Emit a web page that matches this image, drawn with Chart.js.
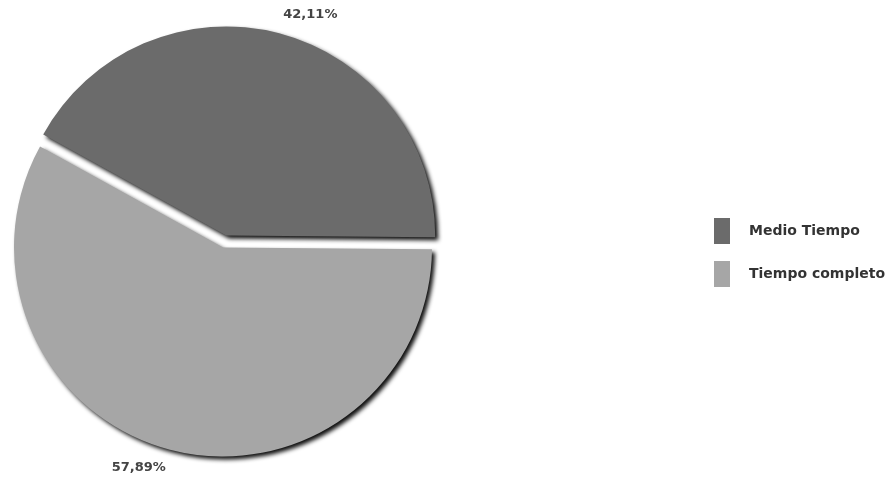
<!DOCTYPE html>
<html>
<head>
<meta charset="utf-8">
<script src="https://cdn.jsdelivr.net/npm/chart.js@4/dist/chart.umd.min.js"></script>
<style>
  html, body { margin: 0; padding: 0; background: #fff; }
  #wrap { width: 892px; height: 480px; }
</style>
</head>
<body>
<div id="wrap"><canvas id="chart" width="892" height="480"></canvas></div>
<script>
const labels = ['Medio Tiempo', 'Tiempo completo'];
const values = [42.11, 57.89];
const colors = ['#6b6b6b', '#a6a6a6'];
// exploded distance per slice, px
const explode = [12.5, 0];

const FONT = '"DejaVu Sans", Verdana, sans-serif';

// push slices out along their bisector without growing the radius
const explodePlugin = {
  id: 'explode',
  afterDatasetsUpdate(chart) {
    const meta = chart.getDatasetMeta(0);
    meta.data.forEach((arc, i) => {
      const mid = (arc.startAngle + arc.endAngle) / 2;
      arc.x += Math.cos(mid) * explode[i];
      arc.y += Math.sin(mid) * explode[i];
    });
  }
};

// soft black drop shadow under the slices
const shadowPlugin = {
  id: 'shadow',
  beforeDatasetsDraw(chart) {
    const ctx = chart.ctx;
    ctx.save();
    ctx.shadowColor = 'rgba(0,0,0,0.95)';
    ctx.shadowBlur = 4;
    ctx.shadowOffsetX = 3;
    ctx.shadowOffsetY = 3;
  },
  afterDatasetsDraw(chart) {
    chart.ctx.restore();
  }
};

// percentage text outside each slice
const pctLabels = {
  id: 'pctLabels',
  afterDatasetsDraw(chart) {
    const ctx = chart.ctx;
    const meta = chart.getDatasetMeta(0);
    ctx.save();
    ctx.font = 'bold 13px ' + FONT;
    ctx.fillStyle = '#444';
    ctx.textAlign = 'center';
    ctx.textBaseline = 'middle';
    meta.data.forEach((arc, i) => {
      const mid = (arc.startAngle + arc.endAngle) / 2;
      const a = mid + 6.2 * Math.PI / 180;
      const r = arc.outerRadius + 27;
      const txt = values[i].toFixed(2).replace('.', ',') + '%';
      ctx.fillText(txt, arc.x + Math.cos(a) * r, arc.y + Math.sin(a) * r);
    });
    ctx.restore();
  }
};

// legend on the right side
const sideLegend = {
  id: 'sideLegend',
  afterDraw(chart) {
    const ctx = chart.ctx;
    ctx.save();
    ctx.font = 'bold 14px ' + FONT;
    ctx.textBaseline = 'middle';
    labels.forEach((lab, i) => {
      const y = 231 + i * 43;
      ctx.fillStyle = colors[i];
      ctx.fillRect(714, y - 13, 16, 26);
      ctx.fillStyle = '#333';
      ctx.fillText(lab, 749, y);
    });
    ctx.restore();
  }
};

new Chart(document.getElementById('chart'), {
  type: 'pie',
  data: {
    labels,
    datasets: [{
      data: values,
      backgroundColor: colors,
      borderWidth: 0,
      radius: 209
    }]
  },
  options: {
    responsive: false,
    animation: false,
    rotation: -61.1,
    layout: { padding: { left: 0, right: 446, top: 15, bottom: 0 } },
    plugins: {
      legend: { display: false },
      tooltip: { enabled: false }
    }
  },
  plugins: [explodePlugin, shadowPlugin, pctLabels, sideLegend]
});
</script>
</body>
</html>
